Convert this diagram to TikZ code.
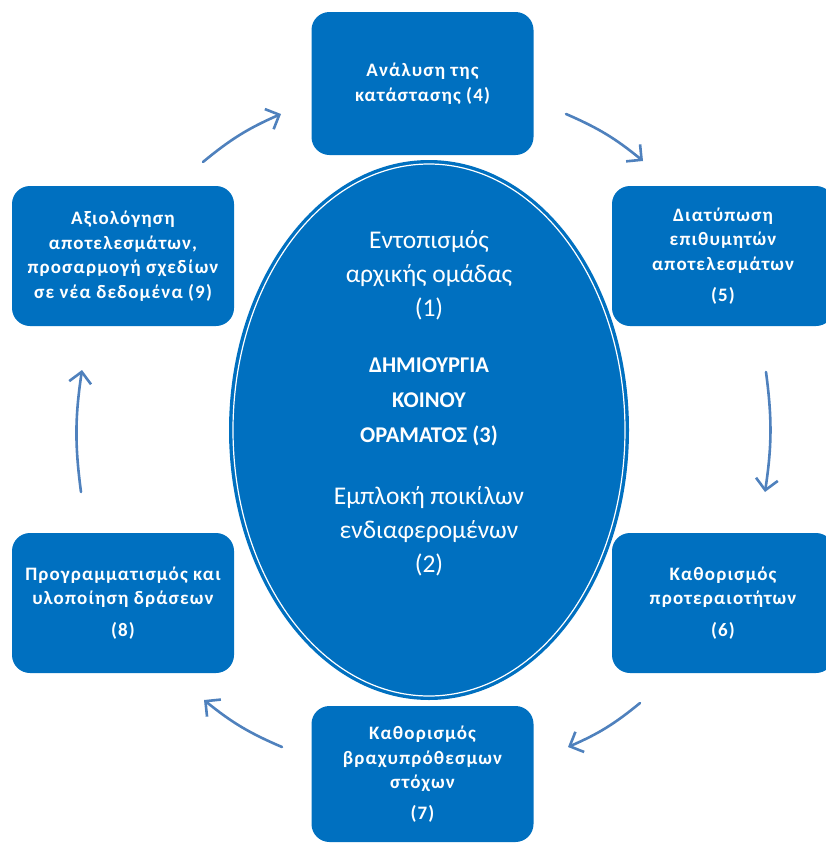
\documentclass[tikz,border=0pt]{standalone}
\usepackage{fontspec}
\setmainfont{Carlito}
\newfontfamily\boxfont{Carlito}[LetterSpace=6]
\usetikzlibrary{arrows.meta,shapes.geometric}
\definecolor{stepblue}{RGB}{0,112,192}
\definecolor{arrowblue}{RGB}{79,129,189}
\begin{document}
\begin{tikzpicture}[x=1pt,y=-1pt,
  stagebox/.style={fill=stepblue, rounded corners=18pt, minimum width=222pt,
    text=white, align=center, font=\boxfont\bfseries\fontsize{19}{24.5}\selectfont,
    inner sep=0pt},
  centretext/.style={text=white, align=center, font=\fontsize{25.5}{34}\selectfont},
  flow/.style={draw=arrowblue, line width=2.6pt, line cap=round,
    -{Straight Barb[length=11pt,width=22pt,line width=2.6pt]}, bend left=8}]
\useasboundingbox (0,0) rectangle (826,846);

% central ellipse with a thin white inner rule
\node[ellipse, fill=stepblue, minimum width=400pt, minimum height=540pt, inner sep=0pt] (vision) at (429,430) {};
\node[ellipse, draw=white, line width=1.2pt, minimum width=392pt, minimum height=532pt, inner sep=0pt] (visionrule) at (429,430) {};

\node[centretext] (t1) at (429,275) {Εντοπισμός\\αρχικής ομάδας\\(1)};
\node[centretext, font=\bfseries\fontsize{22.5}{35}\selectfont] (t3) at (429,402) {ΔΗΜΙΟΥΡΓΙΑ\\ΚΟΙΝΟΥ\\ΟΡΑΜΑΤΟΣ (3)};
\node[centretext] (t2) at (429,531) {Εμπλοκή ποικίλων\\ενδιαφερομένων\\(2)};

% the six stage boxes
\node[stagebox, minimum height=143pt] (s4) at (422.5,83.5) {Ανάλυση της\\κατάστασης (4)};
\node[stagebox, minimum height=140pt] (s5) at (723,256) {Διατύπωση\\επιθυμητών\\αποτελεσμάτων\\[7pt](5)};
\node[stagebox, minimum height=140pt] (s6) at (723,603) {Καθορισμός\\προτεραιοτήτων\\[7pt](6)};
\node[stagebox, minimum height=136pt] (s7) at (422.5,774) {Καθορισμός\\βραχυπρόθεσμων\\στόχων\\[6pt](7)};
\node[stagebox, minimum height=140pt] (s8) at (123,603) {Προγραμματισμός και\\υλοποίηση δράσεων\\[7pt](8)};
\node[stagebox, minimum height=140pt] (s9) at (123,256) {Αξιολόγηση\\αποτελεσμάτων,\\προσαρμογή σχεδίων\\σε νέα δεδομένα (9)};

% arrow end points between the boxes
\coordinate (a94) at (203,162);  \coordinate (b94) at (281,114);
\coordinate (a45) at (566,114);  \coordinate (b45) at (643,161);
\coordinate (a56) at (766,372);  \coordinate (b56) at (765,492);
\coordinate (a67) at (640,703);  \coordinate (b67) at (568,747);
\coordinate (a78) at (282,747);  \coordinate (b78) at (204,700);
\coordinate (a89) at (81,492);   \coordinate (b89) at (82,370);

\draw[flow] (a94) to (b94);
\draw[flow] (a45) to (b45);
\draw[flow] (a56) to (b56);
\draw[flow] (a67) to (b67);
\draw[flow] (a78) to (b78);
\draw[flow] (a89) to (b89);
\end{tikzpicture}
\end{document}
